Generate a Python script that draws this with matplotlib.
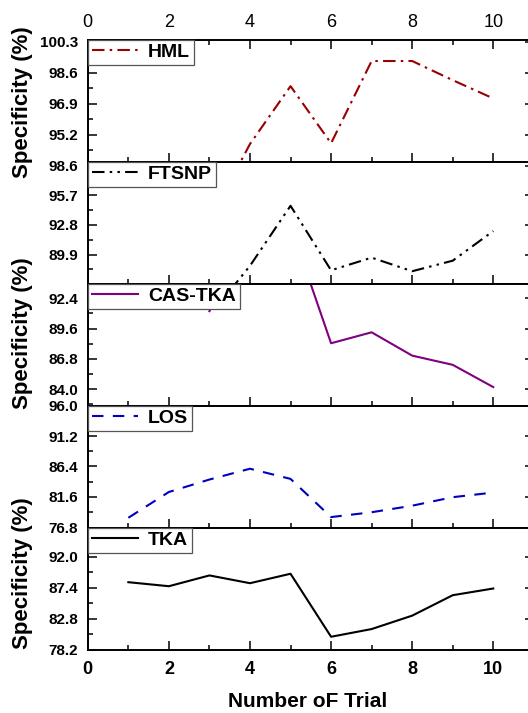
import matplotlib
matplotlib.use("Agg")
import matplotlib.pyplot as plt
from matplotlib.ticker import FixedLocator, AutoMinorLocator, FormatStrFormatter

plt.rcParams['font.family'] = ['Liberation Sans', 'DejaVu Sans']
plt.rcParams['font.weight'] = 'bold'

# data (points hidden outside a panel only start the visible stub)
trials = [1, 2, 3, 4, 5, 6, 7, 8, 9, 10]
hml_x = [3, 4, 5, 6, 7, 8, 9, 10]
hml = [90.5, 94.7, 97.87, 94.74, 99.25, 99.25, 98.2, 97.2]
ftsnp_x = [3, 4, 5, 6, 7, 8, 9, 10]
ftsnp = [83.9, 88.8, 94.67, 88.36, 89.6, 88.27, 89.3, 92.2]
cas_x = [3, 4, 5, 6, 7, 8, 9, 10]
cas_tka = [91.2, 99.0, 99.1, 88.24, 89.25, 87.1, 86.25, 84.2]
los = [78.33, 82.39, 84.35, 86.05, 84.45, 78.44, 79.2, 80.23, 81.57, 82.3]
tka = [88.24, 87.64, 89.25, 88.09, 89.5, 80.1, 81.25, 83.25, 86.3, 87.3]

hml_ticks = [95.2, 96.9, 98.6, 100.3]
ftsnp_ticks = [89.9, 92.8, 95.7, 98.6]
cas_ticks = [84.0, 86.8, 89.6, 92.4]
los_ticks = [76.8, 81.6, 86.4, 91.2, 96.0]
tka_ticks = [78.2, 82.8, 87.4, 92.0]
x_major = [0, 2, 4, 6, 8, 10]
x_minor = [1, 3, 5, 7, 9]

panels = [
    (hml_x, hml, 'HML', '#990000', (0, (6, 2.5, 1.2, 2.5)), hml_ticks, (93.74, 100.43)),
    (ftsnp_x, ftsnp, 'FTSNP', 'black', (0, (6, 2.5, 1.2, 2.5, 1.2, 2.5)), ftsnp_ticks, (87.07, 99.0)),
    (cas_x, cas_tka, 'CAS-TKA', '#800080', '-', cas_ticks, (82.5, 93.75)),
    (trials, los, 'LOS', '#0000c0', (0, (5.5, 4.5)), los_ticks, (76.8, 96.0)),
    (trials, tka, 'TKA', 'black', '-', tka_ticks, (78.2, 96.4)),
]

W, H = 528, 713
fig = plt.figure(figsize=(W / 100, H / 100), dpi=100)

left_px, width_px = 87.8, 446.0
top_px, panel_px = 39.5, 122.0

axes = []
for i, (xs, ys, name, color, ls, yt, ylim) in enumerate(panels):
    top = top_px + i * panel_px
    ax = fig.add_axes([left_px / W, 1 - (top + panel_px) / H, width_px / W, panel_px / H])
    ax.plot(xs, ys, color=color, linestyle=ls, lw=1.5, label=name)
    ax.set_xlim(0, 11)
    ax.set_ylim(*ylim)
    ax.xaxis.set_major_locator(FixedLocator(x_major))
    ax.xaxis.set_minor_locator(FixedLocator(x_minor))
    ax.yaxis.set_major_locator(FixedLocator(yt))
    ax.yaxis.set_minor_locator(AutoMinorLocator(2))
    ax.yaxis.set_major_formatter(FormatStrFormatter('%.1f'))
    for s in ax.spines.values():
        s.set_linewidth(1.4)
    ax.tick_params(which='both', direction='in', width=1.1, left=True, right=True,
                   bottom=True, top=(i == 0), labelbottom=(i == 4), labeltop=(i == 0))
    ax.tick_params(which='major', length=6.5)
    ax.tick_params(which='minor', length=3.6)
    ax.tick_params(axis='y', which='major', labelsize=11, pad=7)
    ax.tick_params(axis='x', which='major', labelsize=13, pad=8)
    leg = ax.legend(loc='upper left', bbox_to_anchor=(0, 1), borderaxespad=0,
                    fancybox=False, framealpha=1, edgecolor='#555555',
                    borderpad=0.2, handlelength=2.4, handletextpad=0.5,
                    prop={'size': 14, 'weight': 'bold'})
    leg.get_frame().set_linewidth(0.9)
    axes.append(ax)

# top labels on the first panel are drawn in regular weight
axes[0].tick_params(axis='x', pad=6)
for t in axes[0].xaxis.get_major_ticks():
    t.label2.set_fontweight('normal')

for idx, yc in [(0, 0.484), (2, 0.59), (4, 0.623)]:
    axes[idx].set_ylabel('Specificity (%)', fontsize=16, fontweight='bold')
    axes[idx].yaxis.set_label_coords(-0.123, yc)

axes[4].set_xlabel('Number oF Trial', fontsize=15, fontweight='bold')
axes[4].xaxis.set_label_coords(0.494, -0.35)
axes[4].xaxis.label.set_va('top')

fig.savefig('out.png', dpi=100)
